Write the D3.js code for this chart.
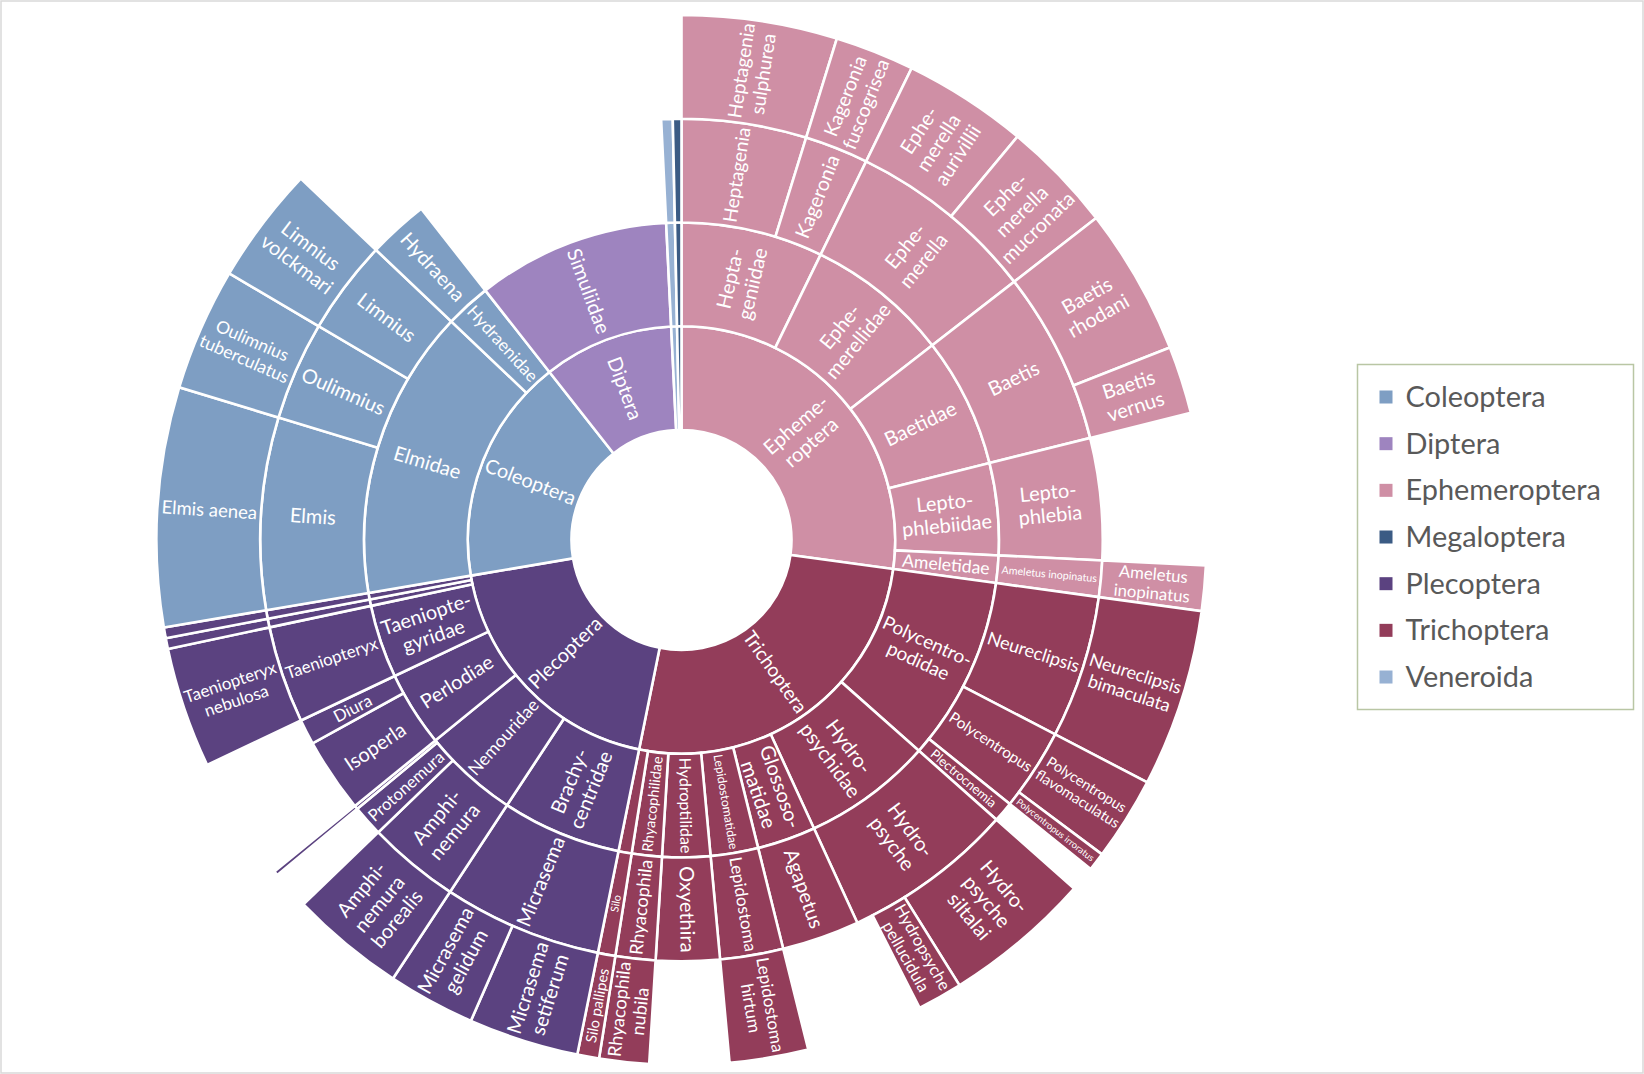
<!DOCTYPE html>
<html>
<head>
<meta charset="utf-8">
<script src="https://cdn.jsdelivr.net/npm/d3@7"></script>
<style>
  html, body { margin: 0; padding: 0; background: #fff; }
  #sunburst { width: 1644px; height: 1074px; }
  svg { display: block; font-family: Lato, "Open Sans", sans-serif; }
</style>
</head>
<body>
<div id="sunburst"></div>
<script>
'use strict'

////////////////////////////////////
//////////////// data //////////////
////////////////////////////////////

// one entry per row of the taxa table, clockwise from 12 o'clock
// '' = level not filled in (segment stops there), '_xx' = tiny unlabelled taxon
const orderCol = [
    'Ephemeroptera', 'Ephemeroptera', 'Ephemeroptera', 'Ephemeroptera', 'Ephemeroptera', 'Ephemeroptera', 'Ephemeroptera', 'Ephemeroptera',
    'Trichoptera', 'Trichoptera', 'Trichoptera', 'Trichoptera', 'Trichoptera', 'Trichoptera', 'Trichoptera', 'Trichoptera', 'Trichoptera', 'Trichoptera', 'Trichoptera', 'Trichoptera',
    'Plecoptera', 'Plecoptera', 'Plecoptera', 'Plecoptera', 'Plecoptera', 'Plecoptera', 'Plecoptera', 'Plecoptera', 'Plecoptera', 'Plecoptera',
    'Coleoptera', 'Coleoptera', 'Coleoptera', 'Coleoptera',
    'Diptera', 'Veneroida', 'Megaloptera'
]
const familyCol = [
    'Heptageniidae', 'Heptageniidae', 'Ephemerellidae', 'Ephemerellidae', 'Baetidae', 'Baetidae', 'Leptophlebiidae', 'Ameletidae',
    'Polycentropodidae', 'Polycentropodidae', 'Polycentropodidae', 'Polycentropodidae', 'Hydropsychidae', 'Hydropsychidae', 'Hydropsychidae',
    'Glossosomatidae', 'Lepidostomatidae', 'Hydroptilidae', 'Rhyacophilidae', '_t1',
    'Brachycentridae', 'Brachycentridae', 'Nemouridae', 'Nemouridae', 'Nemouridae', 'Perlodiae', 'Perlodiae', 'Taeniopterygidae', '_p1', '_p2',
    'Elmidae', 'Elmidae', 'Elmidae', 'Hydraenidae',
    'Simuliidae', '_v1', '_m1'
]
const genusCol = [
    'Heptagenia', 'Kageronia', 'Ephemerella', 'Ephemerella', 'Baetis', 'Baetis', 'Leptophlebia', 'Ameletus inopinatus',
    'Neureclipsis', 'Polycentropus', 'Polycentropus', 'Plectrocnemia', 'Hydropsyche', 'Hydropsyche', 'Hydropsyche',
    'Agapetus', 'Lepidostoma', 'Oxyethira', 'Rhyacophila', 'Silo',
    'Micrasema', 'Micrasema', 'Amphinemura', 'Protonemura', '_n1', 'Isoperla', 'Diura', 'Taeniopteryx', '_p1', '_p2',
    'Elmis', 'Oulimnius', 'Limnius', 'Hydraena',
    '', '_v1', '_m1'
]
const speciesCol = [
    'Heptagenia sulphurea', 'Kageronia fuscogrisea', 'Ephemerella aurivillii', 'Ephemerella mucronata', 'Baetis rhodani', 'Baetis vernus', '', 'Ameletus inopinatus',
    'Neureclipsis bimaculata', 'Polycentropus flavomaculatus', 'Polycentropus irroratus', '', 'Hydropsyche siltalai', 'Hydropsyche pellucidula', '',
    '', 'Lepidostoma hirtum', '', 'Rhyacophila nubila', 'Silo pallipes',
    'Micrasema setiferum', 'Micrasema gelidum', 'Amphinemura borealis', '', '_n1', '', '', 'Taeniopteryx nebulosa', '_p1', '_p2',
    'Elmis aenea', 'Oulimnius tuberculatus', 'Limnius volckmari', '',
    '', '', ''
]
// share of individuals, %
const shareCol = [
    4.78, 2.44, 3.83, 3.44, 4.53, 2.08, 4.67, 1.39,
    5.47, 2.58, 0.56, 0.78, 4.56, 1.39, 0.64, 2.97, 2.42, 2.44, 1.53, 0.67,
    3.39, 2.69, 3.53, 1.19, 0.14, 2.86, 0.97, 3.72, 0.33, 0.33,
    7.36, 3.78, 3.61, 2.31,
    9.83, 0.44, 0.33
]

const legendOrders = ['Coleoptera', 'Diptera', 'Ephemeroptera', 'Megaloptera', 'Plecoptera', 'Trichoptera', 'Veneroida']
const legendColors = ['#7e9ec3', '#9e84bf', '#cf8fa5', '#3b5b84', '#5b4280', '#933d5a', '#97b1d3']

// how the labels are broken over lines (key "depth:name" wins over "name")
const wrapLines = {
    'Ephemeroptera': ['Epheme-', 'roptera'],
    'Heptageniidae': ['Hepta-', 'geniidae'],
    'Ephemerellidae': ['Ephe-', 'merellidae'],
    'Leptophlebiidae': ['Lepto-', 'phlebiidae'],
    'Ephemerella': ['Ephe-', 'merella'],
    'Leptophlebia': ['Lepto-', 'phlebia'],
    'Heptagenia sulphurea': ['Heptagenia', 'sulphurea'],
    'Kageronia fuscogrisea': ['Kageronia', 'fuscogrisea'],
    'Ephemerella aurivillii': ['Ephe-', 'merella', 'aurivillii'],
    'Ephemerella mucronata': ['Ephe-', 'merella', 'mucronata'],
    'Baetis rhodani': ['Baetis', 'rhodani'],
    'Baetis vernus': ['Baetis', 'vernus'],
    '4:Ameletus inopinatus': ['Ameletus', 'inopinatus'],
    'Polycentropodidae': ['Polycentro-', 'podidae'],
    'Hydropsychidae': ['Hydro-', 'psychidae'],
    'Glossosomatidae': ['Glossoso-', 'matidae'],
    'Hydropsyche': ['Hydro-', 'psyche'],
    'Neureclipsis bimaculata': ['Neureclipsis', 'bimaculata'],
    'Polycentropus flavomaculatus': ['Polycentropus', 'flavomaculatus'],
    'Hydropsyche siltalai': ['Hydro-', 'psyche', 'siltalai'],
    'Hydropsyche pellucidula': ['Hydropsyche', 'pellucidula'],
    'Lepidostoma hirtum': ['Lepidostoma', 'hirtum'],
    'Rhyacophila nubila': ['Rhyacophila', 'nubila'],
    'Brachycentridae': ['Brachy-', 'centridae'],
    'Amphinemura': ['Amphi-', 'nemura'],
    'Amphinemura borealis': ['Amphi-', 'nemura', 'borealis'],
    'Micrasema setiferum': ['Micrasema', 'setiferum'],
    'Micrasema gelidum': ['Micrasema', 'gelidum'],
    'Taeniopterygidae': ['Taeniopte-', 'gyridae'],
    'Taeniopteryx nebulosa': ['Taeniopteryx', 'nebulosa'],
    'Oulimnius tuberculatus': ['Oulimnius', 'tuberculatus'],
    'Limnius volckmari': ['Limnius', 'volckmari']
}

////////////////////////////////////
//////////// svg setup /////////////
////////////////////////////////////

const svgWidth = 1644
const svgHeight = 1074
const center = {x: 681.5, y: 540}

const svg = d3.select('#sunburst').append('svg')
    .attr('width', svgWidth)
    .attr('height', svgHeight)

// chart area frame
svg.append('rect')
    .attr('x', 1).attr('y', 1)
    .attr('width', svgWidth - 2).attr('height', svgHeight - 2)
    .attr('fill', '#fff')
    .attr('stroke', '#d9d9d9')
    .attr('stroke-width', 1.5)

////////////////////////////////////
//////////data wrangling////////////
////////////////////////////////////

const rows = orderCol.map((o, i) => ({
    order: o, family: familyCol[i], genus: genusCol[i], species: speciesCol[i], value: shareCol[i]
}))

const nested = d3.rollup(rows, v => d3.sum(v, d => d.value),
    d => d.order, d => d.family, d => d.genus, d => d.species)

const root = d3.hierarchy(['all', nested], ([, v]) => v instanceof Map ? Array.from(v) : null)
    .sum(([, v]) => v instanceof Map ? 0 : v)

d3.partition().size([2 * Math.PI, 5])(root)

const nodes = root.descendants().filter(d => d.depth > 0 && d.data[0] !== '')

////////////////////////////////////
//////////////scales////////////////
////////////////////////////////////

const ringRadius = d3.scaleLinear().domain([1, 5]).range([110, 525])

const colorScale = d3.scaleOrdinal()
    .domain(legendOrders)
    .range(legendColors)

const orderOf = d => d.ancestors().find(a => a.depth === 1).data[0]

////////////////////////////////////
/////////////// DOM ////////////////
////////////////////////////////////

const arc = d3.arc()
    .startAngle(d => d.x0)
    .endAngle(d => d.x1)
    .innerRadius(d => ringRadius(d.y0))
    .outerRadius(d => ringRadius(d.y1))

const chart = svg.append('g')
    .attr('transform', `translate(${center.x},${center.y})`)

chart.append('g')
    .selectAll('path')
    .data(nodes)
    .join('path')
    .attr('d', arc)
    .attr('fill', d => colorScale(orderOf(d)))
    .attr('stroke', '#fff')
    .attr('stroke-width', 2.6)

// labels: radial, sized to fit their segment
const measure = svg.append('text')
    .attr('font-size', 100)
    .attr('visibility', 'hidden')

function widthPerPx(s) {
    measure.text(s)
    return measure.node().getComputedTextLength() / 100
}

const lineHeight = 1.15
const maxFont = 20

const labels = nodes.filter(d => !d.data[0].startsWith('_')).map(d => {
    const name = d.data[0]
    const lines = wrapLines[d.depth + ':' + name] || wrapLines[name] || [name]
    const r0 = ringRadius(d.y0), r1 = ringRadius(d.y1)
    const rMid = (r0 + r1) / 2
    const along = (r1 - r0) - 8
    const across = (d.x1 - d.x0) * rMid - 3
    const perPx = d3.max(lines, widthPerPx)
    const size = Math.min(maxFont, along / perPx, across / (lines.length * lineHeight))
    const angle = (d.x0 + d.x1) / 2 * 180 / Math.PI
    return {lines, rMid, angle, size}
}).filter(l => l.size >= 6)

const label = chart.append('g')
    .selectAll('text')
    .data(labels)
    .join('text')
    .attr('transform', l => {
        const a = l.angle * Math.PI / 180
        const rot = l.angle < 180 ? l.angle - 90 : l.angle - 270
        return `translate(${l.rMid * Math.sin(a)},${-l.rMid * Math.cos(a)}) rotate(${rot})`
    })
    .attr('text-anchor', 'middle')
    .attr('fill', '#fff')
    .attr('font-size', l => l.size.toFixed(1))

label.selectAll('tspan')
    .data(l => l.lines.map((t, i) => ({t, i, n: l.lines.length})))
    .join('tspan')
    .attr('x', 0)
    .attr('y', d => `${(d.i - (d.n - 1) / 2) * lineHeight + 0.35}em`)
    .text(d => d.t)

////////////////////////////////////
/////////////// legend /////////////
////////////////////////////////////

const legendFont = 195.7 / widthPerPx('Ephemeroptera')

const legend = svg.append('g')
    .attr('transform', 'translate(1357.5,364.5)')

legend.append('rect')
    .attr('width', 276)
    .attr('height', 345)
    .attr('fill', '#fff')
    .attr('stroke', '#b9c6a4')
    .attr('stroke-width', 1.5)

const item = legend.selectAll('g.item')
    .data(legendOrders)
    .join('g')
    .attr('class', 'item')
    .attr('transform', (d, i) => `translate(0,${32.5 + i * 46.67})`)

item.append('rect')
    .attr('x', 22)
    .attr('y', -6.5)
    .attr('width', 13)
    .attr('height', 13)
    .attr('fill', d => colorScale(d))

item.append('text')
    .attr('x', 48)
    .attr('dy', '0.35em')
    .attr('font-size', legendFont.toFixed(1))
    .attr('fill', '#595959')
    .text(d => d)

measure.remove()
</script>
</body>
</html>
